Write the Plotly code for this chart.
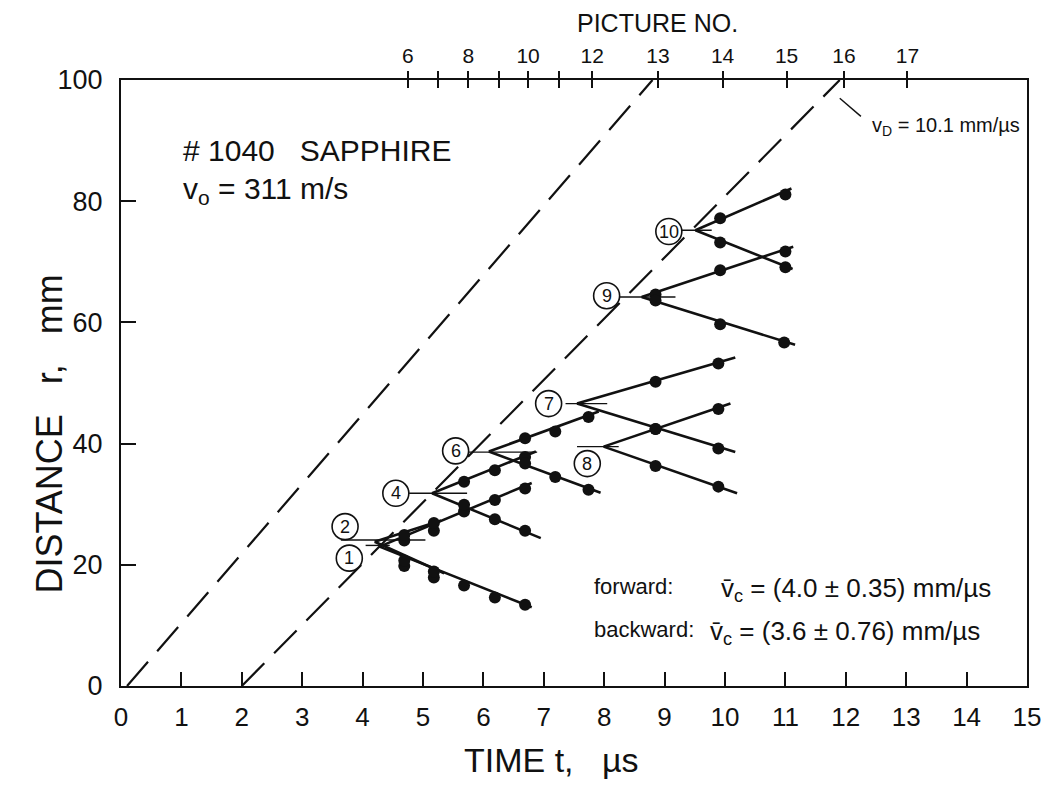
import plotly.graph_objects as go

# ---------------- data ----------------
# failure-front (dashed) lines: t in µs, r in mm
front1_t = [0.1, 8.8]
front1_r = [0, 100]
front2_t = [2.0, 11.9]
front2_r = [0, 100]

# picture number axis (top)
pic_t = [4.75, 5.25, 5.75, 6.25, 6.74, 7.25, 7.80, 8.89, 9.96, 11.02, 11.97, 13.02]
pic_labels = ["6", "", "8", "", "10", "", "12", "13", "14", "15", "16", "17"]

# cracks
crack_labels = ["1", "2", "4", "6", "7", "8", "9", "10"]
origin_t = [4.28, 4.20, 5.15, 6.09, 7.55, 7.99, 8.62, 9.51]
origin_r = [23.0, 23.8, 31.8, 38.7, 46.6, 39.5, 64.2, 75.2]

fwd_dot_t = [[4.69, 5.18, 5.68, 6.19, 6.69], [4.69, 5.18], [5.68, 6.19, 6.69],
             [6.69, 7.19, 7.74], [8.85, 9.89], [8.85, 9.89], [8.85, 9.92, 11.0], [9.92, 11.0]]
fwd_dot_r = [[24.0, 25.6, 28.8, 30.7, 32.6], [24.9, 26.9], [33.7, 35.6, 37.8],
             [40.9, 42.0, 44.4], [50.2, 53.2], [42.4, 45.7], [64.6, 68.6, 71.7], [77.2, 81.1]]
fwd_end_t = [6.80, 5.30, 6.87, 7.91, 10.17, 10.09, 11.13, 11.10]
fwd_end_r = [33.5, 27.3, 38.7, 45.3, 54.2, 46.6, 72.5, 82.1]

bwd_dot_t = [[4.69, 5.18, 5.68, 6.19, 6.69], [4.69, 5.18], [5.68, 6.19, 6.69],
             [6.69, 7.19, 7.74], [8.85, 9.89], [8.85, 9.89], [8.85, 9.92, 10.98], [9.92, 11.0]]
bwd_dot_r = [[19.8, 17.9, 16.6, 14.6, 13.4], [20.7, 18.9], [29.9, 27.5, 25.6],
             [36.7, 34.5, 32.4], [42.4, 39.2], [36.3, 32.9], [63.6, 59.7, 56.7], [73.2, 69.1]]
bwd_end_t = [6.80, 5.35, 6.95, 7.94, 10.17, 10.20, 11.16, 11.12]
bwd_end_r = [13.0, 18.6, 24.4, 31.9, 38.6, 31.8, 56.3, 68.8]

label_t = [3.78, 3.71, 4.55, 5.54, 7.08, 7.72, 8.04, 9.07]
label_r = [21.1, 26.3, 31.8, 38.8, 46.6, 36.7, 64.4, 75.0]

leader_t0 = [4.05, 3.64, 4.77, 5.73, 7.36, 7.55, 8.24, 9.23]
leader_t1 = [4.45, 5.04, 5.73, 6.89, 8.05, 8.24, 9.18, 9.78]
leader_r = [23.2, 24.1, 31.8, 38.6, 46.6, 39.5, 64.2, 75.2]

vd_leader_t = [11.9, 12.25]
vd_leader_r = [97.0, 94.0]

x_ticks = list(range(0, 16))
y_ticks = [0, 20, 40, 60, 80, 100]

# ---------------- figure ----------------
FONT = "Liberation Sans, Arial, Helvetica, sans-serif"
BLACK = "#111111"

fig = go.Figure()

dash = "32px,14px"
for tt, rr in [(front1_t, front1_r), (front2_t, front2_r)]:
    fig.add_trace(go.Scatter(x=tt, y=rr, mode="lines",
                             line=dict(color=BLACK, width=2.2, dash=dash),
                             hoverinfo="skip", showlegend=False))

# leader lines
for i in range(len(crack_labels)):
    fig.add_trace(go.Scatter(x=[leader_t0[i], leader_t1[i]], y=[leader_r[i], leader_r[i]],
                             mode="lines", line=dict(color=BLACK, width=1.4),
                             hoverinfo="skip", showlegend=False))
fig.add_trace(go.Scatter(x=vd_leader_t, y=vd_leader_r, mode="lines",
                         line=dict(color=BLACK, width=1.4), hoverinfo="skip", showlegend=False))

# crack branches
for i in range(len(crack_labels)):
    fig.add_trace(go.Scatter(x=[origin_t[i], fwd_end_t[i]], y=[origin_r[i], fwd_end_r[i]],
                             mode="lines", line=dict(color=BLACK, width=2.6),
                             hoverinfo="skip", showlegend=False))
    fig.add_trace(go.Scatter(x=[origin_t[i], bwd_end_t[i]], y=[origin_r[i], bwd_end_r[i]],
                             mode="lines", line=dict(color=BLACK, width=2.6),
                             hoverinfo="skip", showlegend=False))
    fig.add_trace(go.Scatter(x=fwd_dot_t[i] + bwd_dot_t[i], y=fwd_dot_r[i] + bwd_dot_r[i],
                             mode="markers", marker=dict(color=BLACK, size=12),
                             hoverinfo="skip", showlegend=False))

# circles for crack numbers
fig.add_trace(go.Scatter(x=label_t, y=label_r, mode="markers",
                         marker=dict(symbol="circle", size=26, color="white",
                                     line=dict(color=BLACK, width=1.6)),
                         hoverinfo="skip", showlegend=False))

# top "picture number" axis: labelled ticks, unlabelled ticks, and inner halves
lab_t = [t for t, s in zip(pic_t, pic_labels) if s]
lab_s = [s for s in pic_labels if s]
unlab_t = [t for t, s in zip(pic_t, pic_labels) if not s]

for ax in ["x2", "x3", "x4"]:
    fig.add_trace(go.Scatter(x=[0], y=[0], xaxis=ax, mode="markers",
                             marker=dict(opacity=0), hoverinfo="skip", showlegend=False))

top_common = dict(range=[0, 15], overlaying="x", side="top", anchor="y",
                  tickwidth=1.5, tickcolor=BLACK, showline=False, showgrid=False,
                  zeroline=False)

fig.update_layout(
    width=1045, height=782,
    margin=dict(l=113, r=21, t=72, b=104),
    paper_bgcolor="white", plot_bgcolor="white",
    font=dict(family=FONT, color=BLACK),
    xaxis=dict(range=[0, 15], tickvals=x_ticks, ticktext=[str(v) for v in x_ticks],
               ticks="inside", ticklen=14, tickwidth=1.5, tickcolor=BLACK,
               showline=True, linecolor=BLACK, linewidth=2, mirror=True,
               showgrid=False, zeroline=False,
               tickfont=dict(size=26), ticklabelstandoff=7),
    yaxis=dict(range=[0, 100], tickvals=y_ticks, ticktext=[str(v) for v in y_ticks],
               ticks="inside", ticklen=15, tickwidth=1.5, tickcolor=BLACK,
               showline=True, linecolor=BLACK, linewidth=2, mirror=True,
               showgrid=False, zeroline=False,
               tickfont=dict(size=27), ticklabelstandoff=11),
    xaxis2=dict(**top_common, tickvals=lab_t, ticktext=lab_s, ticks="outside",
                ticklen=8, tickfont=dict(size=21)),
    xaxis3=dict(**top_common, tickvals=unlab_t, ticks="outside", ticklen=8,
                showticklabels=False),
    xaxis4=dict(**top_common, tickvals=pic_t, ticks="inside", ticklen=8,
                showticklabels=False),
)

annotations = [
    dict(text="PICTURE NO.", x=0.592, y=1.0, xref="paper", yref="paper",
         xanchor="center", yanchor="middle",
         yshift=57, showarrow=False, font=dict(size=25)),
    dict(text="TIME t,   µs", x=0.475, y=0, xref="paper", yref="paper",
         xanchor="center", yanchor="middle",
         yshift=-74, showarrow=False, font=dict(size=34)),
    dict(text="DISTANCE   r,   mm", x=0, y=0.415, xref="paper", yref="paper",
         xanchor="center", yanchor="middle",
         xshift=-71, textangle=-90, showarrow=False, font=dict(size=36)),
    dict(text="# 1040   SAPPHIRE", x=1.0, y=88.3, xref="x", yref="y",
         xanchor="left", yanchor="middle", showarrow=False, font=dict(size=30)),
    dict(text="v<sub>o</sub> = 311 m/s", x=1.0, y=81.8, xref="x", yref="y",
         xanchor="left", yanchor="middle", showarrow=False, font=dict(size=30)),
    dict(text="v<sub>D</sub> = 10.1 mm/µs", x=12.4, y=92.4, xref="x", yref="y",
         xanchor="left", yanchor="middle", showarrow=False, font=dict(size=20)),
    dict(text="forward:", x=7.8, y=16.4, xref="x", yref="y",
         xanchor="left", yanchor="middle", showarrow=False, font=dict(size=22)),
    dict(text="v\u0304<sub>c</sub> = (4.0 ± 0.35) mm/µs", x=9.9, y=15.9, xref="x", yref="y",
         xanchor="left", yanchor="middle", showarrow=False, font=dict(size=26)),
    dict(text="backward:", x=7.8, y=9.3, xref="x", yref="y",
         xanchor="left", yanchor="middle", showarrow=False, font=dict(size=22)),
    dict(text="v\u0304<sub>c</sub> = (3.6 ± 0.76) mm/µs", x=9.72, y=8.8, xref="x", yref="y",
         xanchor="left", yanchor="middle", showarrow=False, font=dict(size=26)),
]
# crack numbers inside the circles
for s, tt, rr in zip(crack_labels, label_t, label_r):
    annotations.append(dict(text=s, x=tt, y=rr, xref="x", yref="y",
                            xanchor="center", yanchor="middle", showarrow=False,
                            font=dict(size=18)))
fig.update_layout(annotations=annotations)

fig.write_html("out.html")
